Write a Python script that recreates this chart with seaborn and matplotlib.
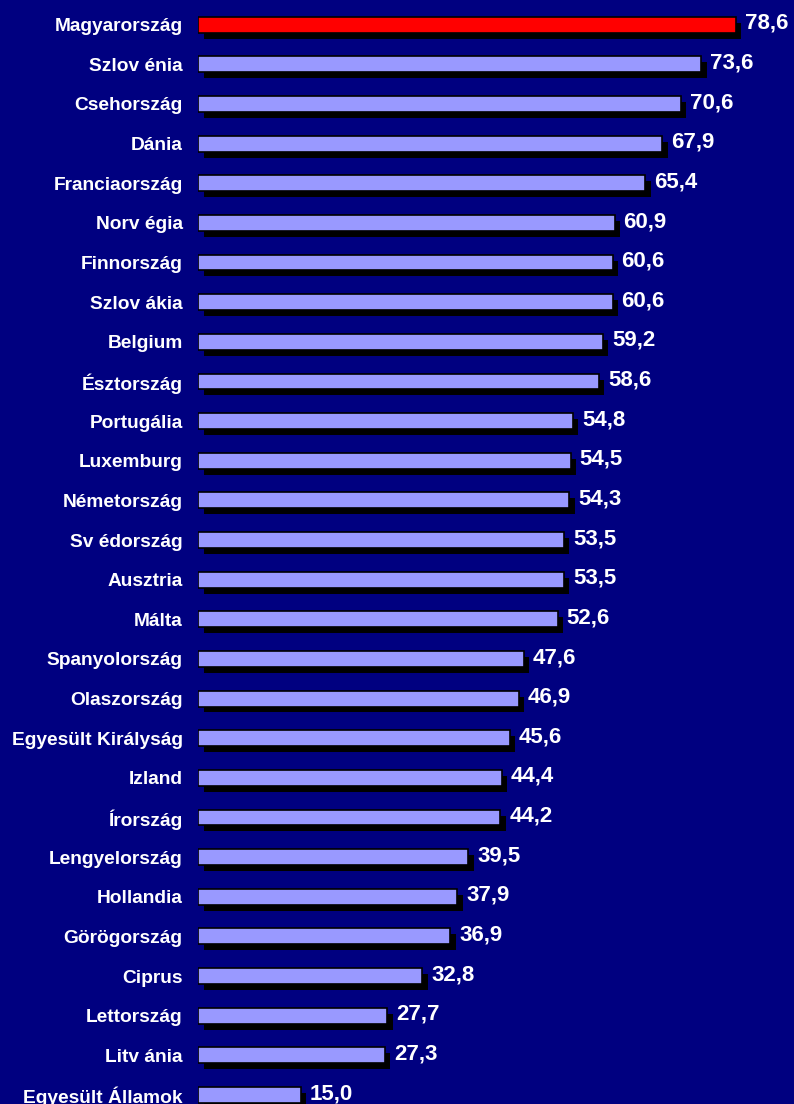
"""Horizontal bar chart of country values, dark blue slide style."""

import matplotlib
matplotlib.use("Agg")

import matplotlib.pyplot as plt
import matplotlib.patheffects as pe
import pandas as pd
import seaborn as sns

countries = [
    "Magyarország", "Szlov énia", "Csehország", "Dánia", "Franciaország",
    "Norv égia", "Finnország", "Szlov ákia", "Belgium", "Észtország",
    "Portugália", "Luxemburg", "Németország", "Sv édország", "Ausztria",
    "Málta", "Spanyolország", "Olaszország", "Egyesült Királyság", "Izland",
    "Írország", "Lengyelország", "Hollandia", "Görögország", "Ciprus",
    "Lettország", "Litv ánia", "Egyesült Államok",
]
values = [
    78.6, 73.6, 70.6, 67.9, 65.4, 60.9, 60.6, 60.6, 59.2, 58.6,
    54.8, 54.5, 54.3, 53.5, 53.5, 52.6, 47.6, 46.9, 45.6, 44.4,
    44.2, 39.5, 37.9, 36.9, 32.8, 27.7, 27.3, 15.0,
]
highlight = "Magyarország"

BG = "#000080"
BAR = "#9999FF"
RED = "#FF0000"

df = pd.DataFrame({"country": countries, "value": values})
palette = {c: (RED if c == highlight else BAR) for c in countries}

sns.set_theme(style="white")
plt.rcParams["font.family"] = ["Liberation Sans", "DejaVu Sans"]

fig = plt.figure(figsize=(7.94, 11.04), dpi=100, facecolor=BG)
ax = fig.add_axes([198 / 794, 0, 1 - 198 / 794, 1])
ax.set_facecolor(BG)

sns.barplot(
    data=df, x="value", y="country", hue="country", palette=palette,
    order=countries, orient="h", width=0.4, legend=False,
    edgecolor="black", linewidth=1.2, saturation=1, ax=ax,
)

# black drop shadow under every bar
shadow = [pe.SimplePatchShadow(offset=(4, -4.3), shadow_rgbFace="black", alpha=1.0),
          pe.Normal()]
for patch in ax.patches:
    patch.set_path_effects(shadow)

for i, v in enumerate(values):
    ax.annotate(
        f"{v:.1f}".replace(".", ","), xy=(v, i), xytext=(6.5, 1),
        textcoords="offset points", ha="left", va="center",
        color="white", fontsize=16, fontweight="bold",
    )

ax.set_xlim(0, 596 / 6.84)
ax.set_ylim((1104 - 24.7) / 39.64, -24.7 / 39.64)
ax.set_xlabel("")
ax.set_ylabel("")
ax.set_xticks([])
ax.tick_params(axis="y", length=0, pad=11, colors="white")
for lbl in ax.get_yticklabels():
    lbl.set_fontweight("bold")
    lbl.set_fontsize(13.8)
    lbl.set_color("white")
for s in ax.spines.values():
    s.set_visible(False)

fig.savefig("out.png", dpi=100, facecolor=BG)
